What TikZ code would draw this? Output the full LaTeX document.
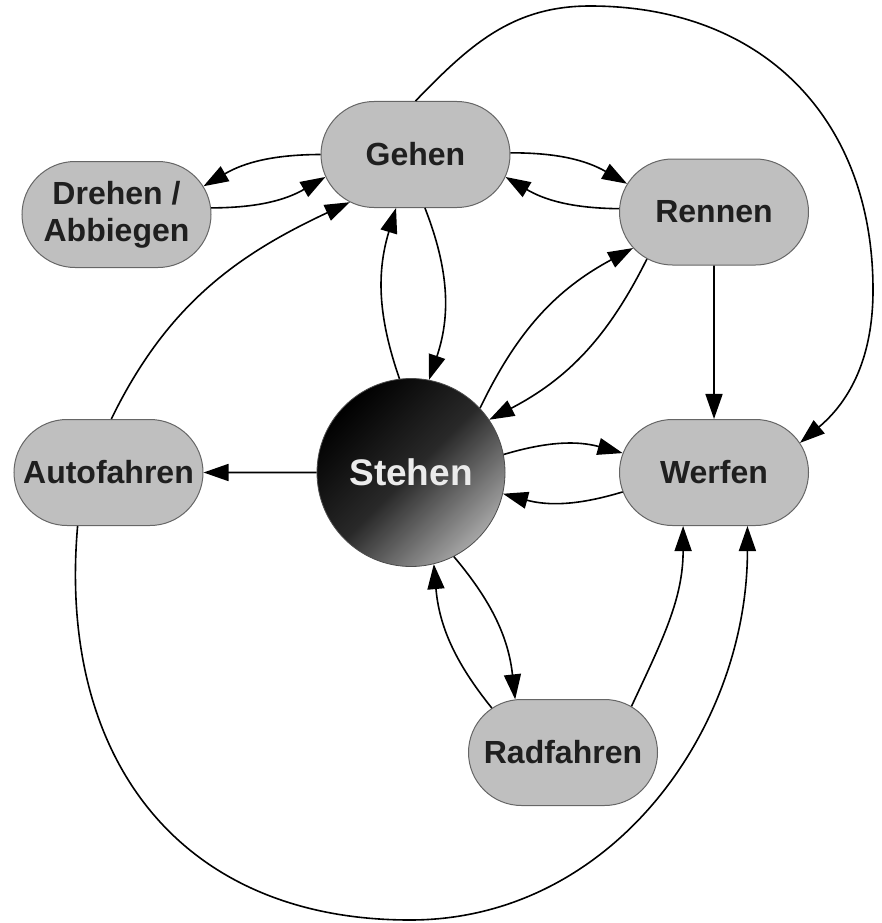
\documentclass[tikz,border=0pt]{standalone}
\usepackage{fontspec}
\setmainfont{Liberation Sans}
\usetikzlibrary{shapes.misc,arrows.meta}

\begin{document}
\begin{tikzpicture}[x=1pt,y=1pt]
\tikzstyle{every node}+=[inner sep=0pt]
\tikzstyle{state}=[rounded rectangle, draw=black!60, line width=1pt, fill=black!25, text=black!88, minimum width=189pt, minimum height=106pt, font=\fontsize{32}{37}\selectfont\bfseries, align=center]
\tikzstyle{hub}=[circle, draw=black!70, line width=0.8pt, minimum size=188pt, top color=black, bottom color=black!35, middle color=black!84, shading angle=45, text=black!8, font=\fontsize{37}{40}\selectfont\bfseries]
\tikzstyle{conn}=[black, line width=1.6pt, -{Triangle[length=25pt,width=17pt]}]
\useasboundingbox (0,0) rectangle (881,-923);
\node [hub] (steh) at (411,-472.5) {Stehen};
\node [state] (geh) at (415.5,-154.5) {Gehen};
\node [state] (dre) at (116.5,-214.5) {Drehen /\\Abbiegen};
\node [state] (ren) at (714,-212) {Rennen};
\node [state] (aut) at (108.5,-472.5) {Autofahren};
\node [state] (wer) at (714,-472.5) {Werfen};
\node [state] (rad) at (563,-752.5) {Radfahren};
\coordinate (topc) at (590,-6);
\coordinate (rgtc) at (873,-290);
\coordinate (botc) at (410,-920);
\draw [conn] (geh.180) to[bend right=15] (dre.18);
\draw [conn] (dre.4) to[bend right=15] (geh.194);
\draw [conn] (geh.1) to[bend left=15] (ren.162);
\draw [conn] (ren.178) to[bend left=15] (geh.346);
\draw [conn] (steh.97) to[bend left=18] (geh.250);
\draw [conn] (geh.280) to[bend left=20] (steh.79);
\draw [conn] (steh.43) to[bend left=18] (ren.204);
\draw [conn] (ren.215) to[bend left=18] (steh.34);
\draw [conn] (steh.11) to[bend left=16] (wer.168);
\draw [conn] (wer.192) to[bend left=16] (steh.347);
\draw [conn] (steh.297) to[bend left=17] (rad.132);
\draw [conn] (rad.148) to[bend left=17] (steh.284);
\draw [conn] (steh) -- (aut);
\draw [conn] (ren) -- (wer);
\draw [conn] (rad.34) to[out=65,in=-90] (wer.240);
\draw [conn] (aut.87) to[out=64,in=-155] (geh.216);
\draw [conn] (geh.90) to[out=46,in=180] (topc) to[out=0,in=90,looseness=1.1] (rgtc) to[out=-90,in=40] (wer.19);
\draw [conn] (aut.240) to[out=-95,in=180,looseness=1.15] (botc) to[out=0,in=-90] (wer.302);
\end{tikzpicture}
\end{document}
